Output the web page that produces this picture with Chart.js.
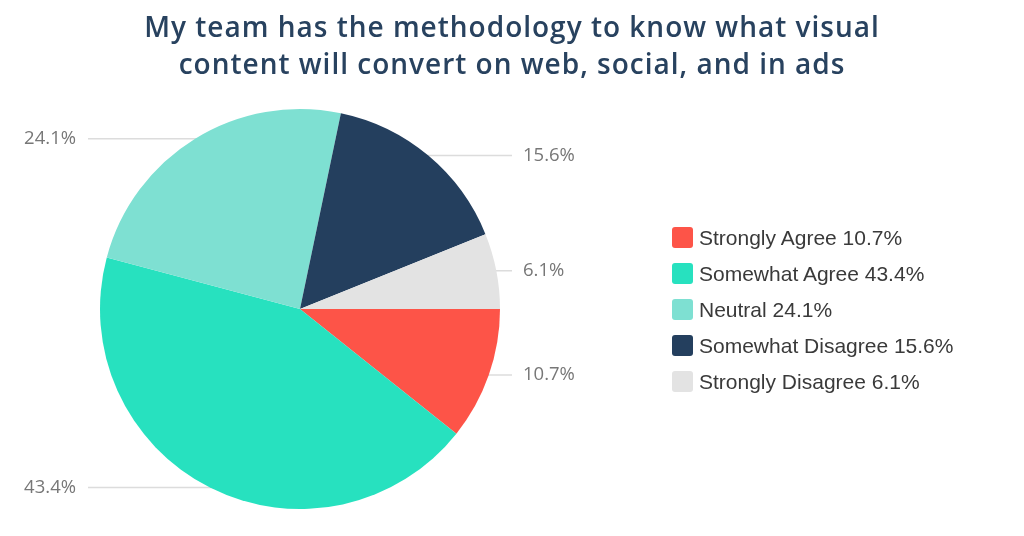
<!DOCTYPE html>
<html>
<head>
<meta charset="utf-8">
<script src="https://cdn.jsdelivr.net/npm/chart.js@4.4.1/dist/chart.umd.min.js"></script>
<style>
  html, body { margin: 0; padding: 0; background: #fff; }
  #wrap { position: relative; width: 1024px; height: 536px; overflow: hidden; }
  #title {
    position: absolute; left: 0; top: 8px; width: 1024px;
    text-align: center; color: #28425f;
    font-family: "Open Sans", Lato, sans-serif; font-weight: 600;
    font-size: 28px; line-height: 37px; letter-spacing: 1px;
  }
  #legend {
    position: absolute; left: 672px; top: 227px;
    font-family: "Liberation Sans", Arial, sans-serif; font-size: 21px; color: #3a3a3a;
  }
  .item { height: 36px; display: flex; align-items: flex-start; }
  .box { width: 21px; height: 21px; border-radius: 3px; margin-right: 6px; }
  .lbl { line-height: 21px; }
  #c { position: absolute; left: 0; top: 0; }
</style>
</head>
<body>
<div id="wrap">
  <canvas id="c" width="1024" height="536"></canvas>
  <div id="title">My team has the methodology to know what visual<br>content will convert on web, social, and in ads</div>
  <div id="legend"></div>
</div>
<script>
// Data
const categories = ['Strongly Agree', 'Somewhat Agree', 'Neutral', 'Somewhat Disagree', 'Strongly Disagree'];
const shares = [10.7, 43.4, 24.1, 15.6, 6.1];
const colors = ['#fd5448', '#27e1bf', '#7ee0d2', '#243f5e', '#e3e3e3'];

// Build legend
const legendEl = document.getElementById('legend');
categories.forEach(function(name, i) {
    const row = document.createElement('div');
    row.className = 'item';
    row.innerHTML = '<div class="box" style="background:' + colors[i] + '"></div>' +
        '<div class="lbl">' + name + ' ' + shares[i].toFixed(1) + '%</div>';
    legendEl.appendChild(row);
});

// Outside labels with horizontal leader lines (drawn behind the pie)
const outsideLabels = {
    id: 'outsideLabels',
    beforeDatasetsDraw(chart) {
        const ctx = chart.ctx;
        const meta = chart.getDatasetMeta(0);
        ctx.save();
        ctx.strokeStyle = '#dcdcdc';
        ctx.lineWidth = 1.5;
        ctx.fillStyle = '#777777';
        ctx.font = '18.5px "Open Sans", sans-serif';
        ctx.textBaseline = 'middle';
        meta.data.forEach(function(arc, i) {
            const mid = (arc.startAngle + arc.endAngle) / 2;
            const y = arc.y + arc.outerRadius * Math.sin(mid);
            const right = Math.cos(mid) > 0;
            ctx.beginPath();
            ctx.moveTo(arc.x, y);
            ctx.lineTo(right ? 512 : 88, y);
            ctx.stroke();
            ctx.textAlign = right ? 'left' : 'right';
            ctx.fillText(shares[i].toFixed(1) + '%', right ? 523 : 76, y);
        });
        ctx.restore();
    }
};

const chart = new Chart(document.getElementById('c').getContext('2d'), {
    type: 'pie',
    data: {
        labels: categories,
        datasets: [{
            data: shares,
            backgroundColor: colors,
            borderWidth: 0
        }]
    },
    options: {
        responsive: false,
        animation: false,
        rotation: 90,
        layout: {
            padding: { left: 100, right: 524, top: 109, bottom: 27 }
        },
        plugins: {
            legend: { display: false },
            tooltip: { enabled: false }
        }
    },
    plugins: [outsideLabels]
});
</script>
</body>
</html>
